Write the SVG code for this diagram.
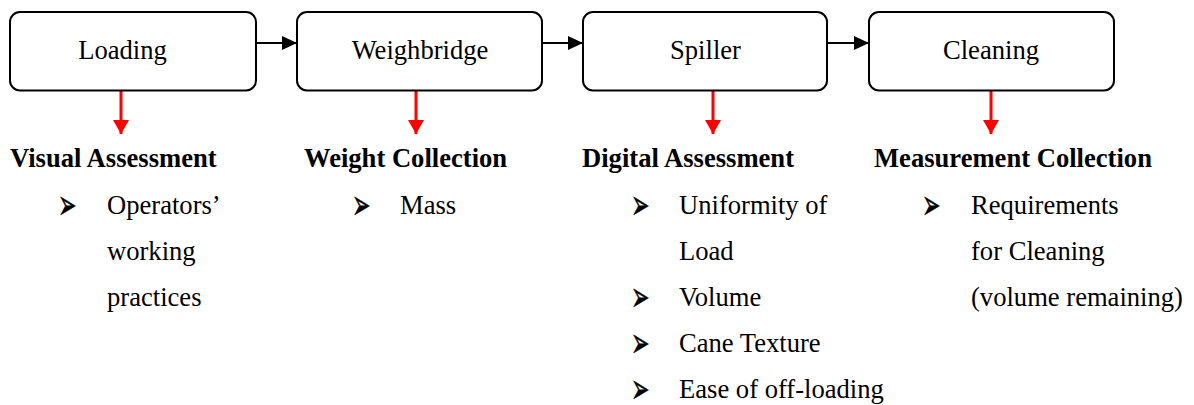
<svg xmlns="http://www.w3.org/2000/svg" width="1194" height="405" viewBox="0 0 1194 405">
<style>
.lbl,.ttl,.txt{font-family:'Liberation Serif','Tinos','Times New Roman','DejaVu Serif',serif;font-size:26.6px;fill:#000}
.ttl{font-weight:bold}
.box{fill:#fff;stroke:#000;stroke-width:2}
.bul{font-family:'DejaVu Sans',sans-serif;font-size:22px;fill:#000;stroke:#000;stroke-width:0.3}
.blk{stroke:#000;stroke-width:2;fill:none}
.red{stroke:#f00;stroke-width:3;fill:none}
</style>
<defs>
<marker id="ab" markerWidth="15" markerHeight="14" refX="15" refY="7" orient="auto" markerUnits="userSpaceOnUse"><path d="M0,0 L15,7 L0,14 Z" fill="#000"/></marker>
<marker id="ar" markerWidth="14" markerHeight="16" refX="14" refY="8" orient="auto" markerUnits="userSpaceOnUse"><path d="M0,0 L14,8 L0,16 Z" fill="#f00"/></marker>
</defs>
<g id="connectors">
<line class="blk" x1="257" y1="43" x2="297" y2="43" marker-end="url(#ab)"/>
<line class="blk" x1="543" y1="43" x2="583" y2="43" marker-end="url(#ab)"/>
<line class="blk" x1="827" y1="43" x2="869" y2="43" marker-end="url(#ab)"/>
<line class="red" x1="121" y1="91" x2="121" y2="134" marker-end="url(#ar)"/>
<line class="red" x1="416" y1="91" x2="416" y2="134" marker-end="url(#ar)"/>
<line class="red" x1="713" y1="91" x2="713" y2="134" marker-end="url(#ar)"/>
<line class="red" x1="991" y1="91" x2="991" y2="134" marker-end="url(#ar)"/>
</g>
<g id="loading">
<rect class="box" x="10" y="12" width="246" height="78.5" rx="10"/>
<text class="lbl" x="122.5" y="59" text-anchor="middle">Loading</text>
</g>
<g id="weighbridge">
<rect class="box" x="297" y="12" width="245" height="78.5" rx="10"/>
<text class="lbl" x="420" y="59" text-anchor="middle">Weighbridge</text>
</g>
<g id="spiller">
<rect class="box" x="583" y="12" width="244" height="78.5" rx="10"/>
<text class="lbl" x="705.5" y="59" text-anchor="middle">Spiller</text>
</g>
<g id="cleaning">
<rect class="box" x="869" y="12" width="245" height="78.5" rx="10"/>
<text class="lbl" x="991" y="59" text-anchor="middle">Cleaning</text>
</g>
<g id="visual">
<text class="ttl" x="10" y="167">Visual Assessment</text>
<text class="bul" transform="translate(58,218.5) scale(1,1.9)">➢</text>
<text class="txt" x="107" y="214">Operators’</text>
<text class="txt" x="107" y="260">working</text>
<text class="txt" x="107" y="306">practices</text>
</g>
<g id="weight">
<text class="ttl" x="304" y="167">Weight Collection</text>
<text class="bul" transform="translate(352,218.5) scale(1,1.9)">➢</text>
<text class="txt" x="400" y="214">Mass</text>
</g>
<g id="digital">
<text class="ttl" x="582" y="167">Digital Assessment</text>
<text class="bul" transform="translate(631,218.5) scale(1,1.9)">➢</text>
<text class="txt" x="679" y="214">Uniformity of</text>
<text class="txt" x="679" y="260">Load</text>
<text class="bul" transform="translate(631,310.5) scale(1,1.9)">➢</text>
<text class="txt" x="679" y="306">Volume</text>
<text class="bul" transform="translate(631,356.5) scale(1,1.9)">➢</text>
<text class="txt" x="679" y="352">Cane Texture</text>
<text class="bul" transform="translate(631,402.5) scale(1,1.9)">➢</text>
<text class="txt" x="679" y="398">Ease of off-loading</text>
</g>
<g id="measurement">
<text class="ttl" x="874" y="167">Measurement Collection</text>
<text class="bul" transform="translate(922,218.5) scale(1,1.9)">➢</text>
<text class="txt" x="971" y="214">Requirements</text>
<text class="txt" x="971" y="260">for Cleaning</text>
<text class="txt" x="971" y="306">(volume remaining)</text>
</g>
</svg>
